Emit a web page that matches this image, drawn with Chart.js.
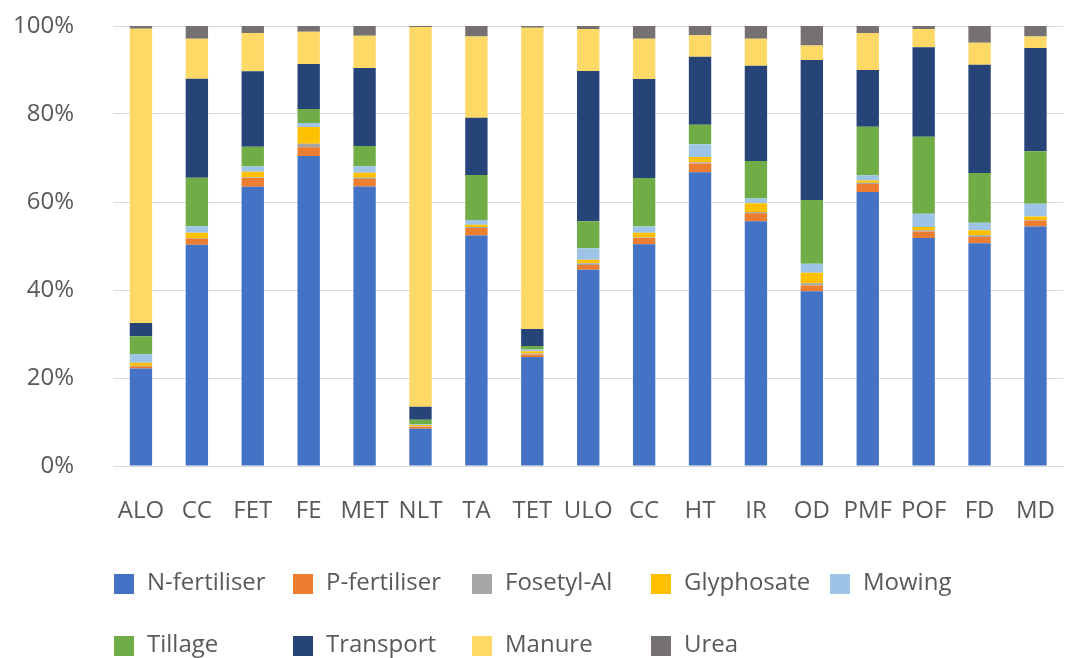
<!DOCTYPE html>
<html>
<head>
<meta charset="utf-8">
<script src="https://cdn.jsdelivr.net/npm/chart.js@4.4.1/dist/chart.umd.min.js"></script>
<style>
  html, body { margin: 0; padding: 0; background: #fff; }
  #wrap { width: 1086px; height: 658px; position: relative; }
</style>
</head>
<body>
<div id="wrap"><canvas id="c" width="1086" height="658"></canvas></div>
<script>
// Sites / farm types along the x axis
const categories = ['ALO','CC','FET','FE','MET','NLT','TA','TET','ULO','CC','HT','IR','OD','PMF','POF','FD','MD'];

// Share of each emission source per site (%)
const nFertiliser = [22.1, 50.3, 63.4, 70.3, 63.4,  8.5, 52.3, 24.7, 44.5, 50.3, 66.6, 55.5, 39.7, 62.2, 51.7, 50.5, 54.3];
const pFertiliser = [ 0.5,  1.4,  2.0,  2.0,  1.7,  0.4,  1.7,  0.6,  1.1,  1.4,  2.0,  1.8,  1.3,  1.8,  1.5,  1.4,  1.4];
const fosetylAl   = [ 0.1,  0.1,  0.1,  0.8,  0.3,  0.1,  0.2,  0.2,  0.4,  0.1,  0.3,  0.3,  0.5,  0.3,  0.3,  0.4,  0.1];
const glyphosate  = [ 0.7,  1.2,  1.3,  3.8,  1.1,  0.3,  0.5,  0.5,  0.8,  1.1,  1.2,  2.0,  2.4,  0.5,  0.7,  1.1,  0.8];
const mowing      = [ 2.0,  1.5,  1.2,  0.9,  1.5,  0.2,  1.1,  0.4,  2.6,  1.4,  2.9,  1.1,  2.0,  1.2,  3.0,  1.7,  2.9];
const tillage     = [ 4.0, 11.0,  4.5,  3.2,  4.6,  1.0, 10.2,  0.8,  6.1, 11.0,  4.4,  8.5, 14.5, 11.0, 17.5, 11.3, 11.9];
const transport   = [ 3.0, 22.5, 17.1, 10.2, 17.7,  3.0, 13.0,  3.9, 34.1, 22.5, 15.4, 21.6, 31.8, 12.9, 20.3, 24.5, 23.4];
const manure      = [66.7,  9.1,  8.7,  7.3,  7.3, 86.4, 18.4, 68.3,  9.5,  9.1,  4.9,  6.1,  3.3,  8.4,  4.1,  5.0,  2.6];
const urea        = [ 0.6,  2.9,  1.6,  1.3,  2.2,  0.2,  2.4,  0.4,  0.7,  2.9,  2.1,  2.9,  4.4,  1.6,  0.7,  3.8,  2.4];

// Axis tick labels
const yTickLabels = ['0%','20%','40%','60%','80%','100%'];

const seriesNames = ['N-fertiliser','P-fertiliser','Fosetyl-Al','Glyphosate','Mowing','Tillage','Transport','Manure','Urea'];
const seriesValues = [nFertiliser, pFertiliser, fosetylAl, glyphosate, mowing, tillage, transport, manure, urea];
const seriesColors = ['#4472C4','#ED7D31','#A5A5A5','#FFC000','#9DC3E6','#70AD47','#264478','#FFD966','#767171'];

// 100% stacking: each column is scaled to its own total
const totals = categories.map((_, i) => seriesValues.reduce((s, arr) => s + arr[i], 0));

const datasets = seriesNames.map((name, k) => ({
  label: name,
  data: seriesValues[k].map((v, i) => v / totals[i] * 100),
  backgroundColor: seriesColors[k],
  borderWidth: 0,
  barPercentage: 0.4,
  categoryPercentage: 1.0
}));

const FONT = '"Open Sans", "DejaVu Sans", sans-serif';
const TEXT = '#595959';

// Column-aligned legend below the plot
const gridLegend = {
  id: 'gridLegend',
  afterDraw(chart) {
    const ctx = chart.ctx;
    const x0 = 114, colW = 179, rows = [584, 646], perRow = 5, box = 20;
    ctx.save();
    ctx.font = '24px ' + FONT;
    ctx.textBaseline = 'middle';
    ctx.textAlign = 'left';
    chart.data.datasets.forEach((ds, i) => {
      const x = x0 + (i % perRow) * colW;
      const y = rows[Math.floor(i / perRow)];
      ctx.fillStyle = ds.backgroundColor;
      ctx.fillRect(x, y - box / 2, box, box);
      ctx.fillStyle = TEXT;
      ctx.fillText(ds.label, x + box + 13, y - 1);
    });
    ctx.restore();
  }
};

new Chart(document.getElementById('c'), {
  type: 'bar',
  data: { labels: categories, datasets },
  plugins: [gridLegend],
  options: {
    responsive: false,
    animation: false,
    layout: { padding: { top: 26, right: 1, left: 0, bottom: 0 } },
    plugins: {
      legend: { display: false },
      tooltip: { enabled: false }
    },
    scales: {
      x: {
        stacked: true,
        grid: { display: false, drawTicks: false },
        border: { display: true, color: '#D9D9D9', width: 1 },
        ticks: { color: TEXT, font: { family: FONT, size: 24 }, padding: 31, maxRotation: 0, autoSkip: false },
        afterFit(scale) { scale.height = 192; }
      },
      y: {
        stacked: true,
        min: 0,
        max: 100,
        grid: { color: '#D9D9D9', lineWidth: 1, drawTicks: false },
        border: { display: false },
        ticks: {
          stepSize: 20,
          color: TEXT,
          font: { family: FONT, size: 24 },
          padding: 39,
          callback: (v) => yTickLabels[Math.round(v / 20)]
        },
        afterFit(scale) {
          scale.width = 113;
          // keep the label gap from pushing the plot top down
          scale.paddingTop = 0;
          scale.paddingBottom = 0;
        }
      }
    }
  }
});
</script>
</body>
</html>
